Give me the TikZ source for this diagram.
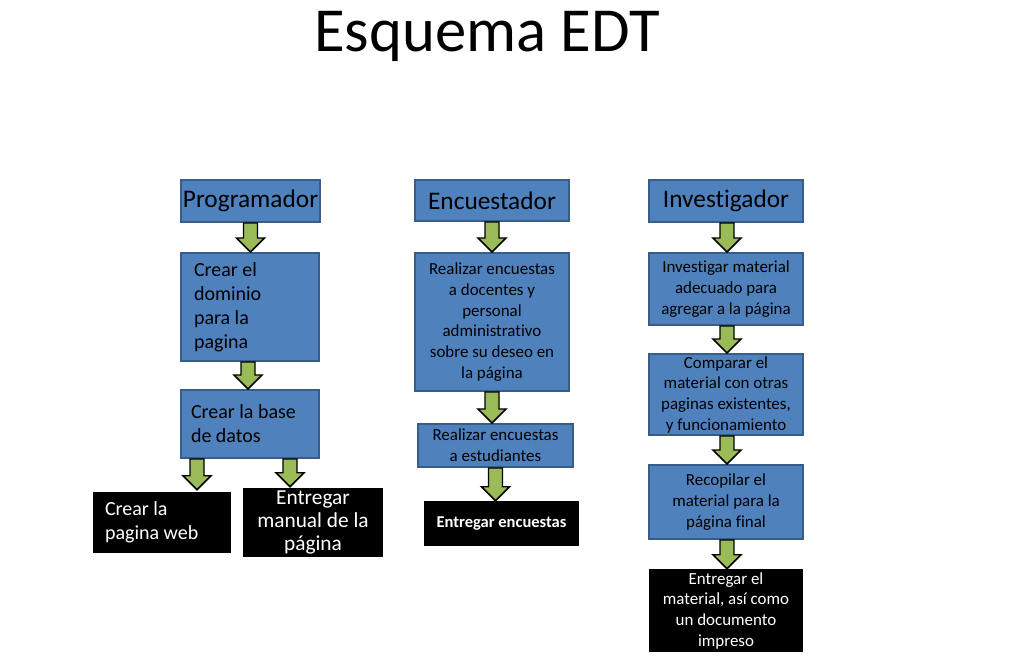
\documentclass[tikz,border=0pt]{standalone}
\usepackage{fontspec}
\setmainfont{Carlito}[Ligatures=NoCommon]
\usetikzlibrary{calc}

\definecolor{azul}{HTML}{4F81BD}
\definecolor{bordeazul}{HTML}{385D8A}
\definecolor{verde}{HTML}{9BBB59}

\tikzset{
  caja/.style={draw=bordeazul, fill=azul, line width=1.5pt, inner sep=0pt, align=center},
  negra/.style={fill=black, text=white, inner sep=0pt, align=center},
  tam/.style 2 args={minimum width=#1*0.75pt, minimum height=#2*0.75pt},
  chico/.style={font=\fontsize{12.7}{15.5}\selectfont},
  medio/.style={font=\fontsize{15}{18}\selectfont},
  titulo/.style={font=\fontsize{19}{23}\selectfont},
  flechaverde/.style={draw=black, fill=verde, line width=1.1pt, line join=miter},
}

% flecha de bloque verde, de #1 hacia abajo hasta #2
\newcommand\flecha[2]{%
  \draw[flechaverde] let \p1=(#1), \p2=(#2) in
    (\x1-5.25pt,\y1) -- (\x1+5.25pt,\y1) -- (\x1+5.25pt,\y2+10.5pt)
    -- (\x1+10.5pt,\y2+10.5pt) -- (\x1,\y2) -- (\x1-10.5pt,\y2+10.5pt)
    -- (\x1-5.25pt,\y2+10.5pt) -- cycle;}

\begin{document}
\begin{tikzpicture}[x=0.75pt, y=-0.75pt]
  \useasboundingbox (0,0) rectangle (1030,660);

  % Titulo
  \node[anchor=base, font=\fontsize{47}{56}\selectfont] (esquema) at (487,52) {Esquema EDT};

  % Programador
  \node[caja, titulo, tam={139}{42}] (prog) at (250.5,201) {Programador};
  \node[caja, medio, tam={138}{108}, align=flush left, inner xsep=9.75pt, text width=84pt]
       (dominio) at (250,307) {Crear el\\dominio\\para la\\pagina};
  \node[caja, medio, tam={138}{68}, align=flush left, inner xsep=7.5pt, text width=88.5pt]
       (base) at (250,424) {Crear la base\\de datos};
  \node[negra, medio, tam={138}{61}, align=flush left, inner xsep=9pt, text width=85.5pt]
       (web) at (162,522.5) {Crear la\\pagina web};
  \node[negra, tam={140}{69}, font=\fontsize{16}{17.6}\selectfont]
       (manual) at (313,522.5) {Entregar\\manual de la\\página};

  % Encuestador
  \node[caja, titulo, tam={154}{41}] (enc) at (492,200.5) {Encuestador};
  \node[caja, chico, tam={154}{138}] (docentes) at (492,322)
       {Realizar encuestas\\a docentes y\\personal\\administrativo\\sobre su deseo en\\la página};
  \node[caja, chico, tam={155}{43}] (estud) at (495.5,445.5) {Realizar encuestas\\a estudiantes};
  \node[negra, tam={155}{45}, font=\bfseries\fontsize{12.4}{15}\selectfont]
       (entenc) at (501.5,523.5) {Entregar encuestas};

  % Investigador
  \node[caja, titulo, tam={154}{42}] (inv) at (726,201) {Investigador};
  \node[caja, chico, tam={154}{72}] (invmat) at (726,289)
       {Investigar material\\adecuado para\\agregar a la página};
  \node[caja, chico, tam={154}{81}] (comparar) at (726,394.5)
       {Comparar el\\material con otras\\paginas existentes,\\y funcionamiento};
  \node[caja, chico, tam={154}{74}] (recop) at (726,502)
       {Recopilar el\\material para la\\página final};
  \node[negra, chico, tam={154}{83}] (entmat) at (726,610.5)
       {Entregar el\\material, así como\\un documento\\impreso};

  % Flechas
  \flecha{prog.south}{dominio.north}
  \flecha{$(dominio.south)+(-2,0)$}{base.north}
  \flecha{$(base.south)+(-53,0)$}{$(web.north)+(0,-2)$}
  \flecha{$(base.south)+(40,0)$}{$(manual.north)+(0,-1)$}

  \flecha{enc.south}{docentes.north}
  \flecha{docentes.south}{estud.north}
  \flecha{estud.south}{entenc.north}

  \flecha{$(inv.south)+(1,0)$}{invmat.north}
  \flecha{$(invmat.south)+(1,0)$}{comparar.north}
  \flecha{$(comparar.south)+(1,0)$}{recop.north}
  \flecha{$(recop.south)+(1,0)$}{entmat.north}
\end{tikzpicture}
\end{document}
